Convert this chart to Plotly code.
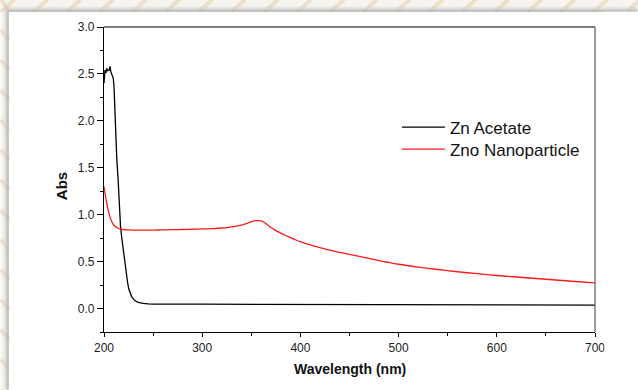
import plotly.graph_objects as go

# UV-Vis absorbance spectra
acetate_nm = [200.0, 201.0, 202.0, 202.7, 203.7, 204.4, 205.4, 206.1, 206.8, 207.8,
              208.8, 209.5, 210.2, 210.8, 211.2, 211.9, 213.0, 214.4, 215.5, 216.8,
              218.0, 219.0, 220.0, 221.2, 222.0, 223.0, 224.0, 225.2, 226.0, 227.0,
              228.0, 230.0, 232.0, 235.0, 237.0, 240.0, 245.0, 250.0, 300.0, 400.0,
              500.0, 600.0, 700.0]
acetate_abs = [2.40, 2.54, 2.51, 2.56, 2.53, 2.54, 2.54, 2.58, 2.53, 2.50,
               2.49, 2.45, 2.36, 2.15, 2.01, 1.80, 1.60, 1.37, 1.13, 0.88,
               0.76, 0.67, 0.60, 0.50, 0.43, 0.35, 0.28, 0.21, 0.18, 0.15,
               0.13, 0.10, 0.08, 0.065, 0.06, 0.055, 0.05, 0.048, 0.046, 0.043,
               0.041, 0.039, 0.037]

zno_nm = [200, 201, 202, 203, 204, 205, 206, 207, 208, 209, 210, 212, 214, 216, 218,
          220, 225, 230, 240, 250, 260, 270, 280, 290, 300, 310, 320, 325, 330, 335,
          340, 345, 348, 350, 352, 354, 356, 358, 360, 362, 364, 366, 368, 370, 373,
          376, 380, 385, 390, 395, 400, 410, 420, 430, 440, 450, 460, 470, 480, 490,
          500, 520, 540, 560, 580, 600, 620, 640, 660, 680, 700]
zno_abs = [1.30, 1.23, 1.17, 1.11, 1.06, 1.02, 0.98, 0.95, 0.925, 0.905, 0.89, 0.87,
           0.858, 0.85, 0.845, 0.841, 0.838, 0.836, 0.835, 0.836, 0.838, 0.840, 0.842,
           0.845, 0.848, 0.852, 0.858, 0.863, 0.870, 0.878, 0.890, 0.905, 0.918, 0.926,
           0.932, 0.937, 0.936, 0.937, 0.933, 0.925, 0.912, 0.896, 0.880, 0.864, 0.844,
           0.825, 0.803, 0.778, 0.756, 0.733, 0.712, 0.678, 0.648, 0.622, 0.598, 0.576,
           0.555, 0.535, 0.510, 0.491, 0.472, 0.442, 0.416, 0.392, 0.371, 0.352, 0.336,
           0.320, 0.304, 0.288, 0.273]

series_names = ["Zn Acetate", "Zno Nanoparticle"]
x_ticks = [200, 300, 400, 500, 600, 700]
y_ticks = [0.0, 0.5, 1.0, 1.5, 2.0, 2.5, 3.0]

W, H = 638, 390
ML, MR, MT, MB = 103.5, 42.5, 27.3, 57.5
PW, PH = W - ML - MR, H - MT - MB
FONT = "Liberation Sans, Arial, sans-serif"
BEIGE = "#f7f4ef"
STRIPE = "rgba(225,200,160,0.45)"


def px(x):
    return (x - ML) / PW


def py(y):
    return (H - MB - y) / PH


def rect(x0, y0, x1, y1, color, layer="below"):
    return dict(type="rect", xref="paper", yref="paper", layer=layer,
                x0=px(x0), y0=py(y0), x1=px(x1), y1=py(y1),
                line=dict(width=0), fillcolor=color)


shapes = []
# beige border strips along the top and left edges
shapes.append(rect(0, 0, W, 12, BEIGE))
shapes.append(rect(0, 0, 8, H, BEIGE))
# faint decorative stripes in the strips
for i in range(-1, 21):
    x0 = i * 33
    shapes.append(dict(type="line", xref="paper", yref="paper", layer="below",
                       x0=px(x0), y0=py(12), x1=px(x0 + 14), y1=py(0),
                       line=dict(color=STRIPE, width=4)))
for j in range(0, 14):
    y0 = j * 30
    shapes.append(dict(type="line", xref="paper", yref="paper", layer="below",
                       x0=px(0), y0=py(y0), x1=px(8), y1=py(y0 + 10),
                       line=dict(color=STRIPE, width=4)))
# soft shadow where the strips meet the white card
for d, c in [(5, "rgba(200,200,200,0.35)"), (3, "rgba(190,190,190,0.5)"),
             (1.5, "rgba(180,180,180,0.7)")]:
    shapes.append(rect(8 - d, 12 - d, W, 12, c))
    shapes.append(rect(8 - d, 12, 8, H, c))
# plain white right margin of the card
shapes.append(rect(605, 12, W + 2, H + 2, "white", layer="above"))
# top and right frame lines
shapes.append(dict(type="line", xref="paper", yref="paper", x0=0, y0=1, x1=1, y1=1,
                   line=dict(color="#555", width=1.3)))
shapes.append(dict(type="line", xref="paper", yref="paper", x0=1, y0=0, x1=1, y1=1,
                   line=dict(color="#666", width=1.3)))

fig = go.Figure()
fig.add_trace(go.Scatter(x=acetate_nm, y=acetate_abs, mode="lines", name=series_names[0],
                         legend="legend",
                         line=dict(color="#000000", width=1.3)))
fig.add_trace(go.Scatter(x=zno_nm, y=zno_abs, mode="lines", name=series_names[1],
                         legend="legend2",
                         line=dict(color="#ff1a1a", width=1.3, shape="spline",
                                   smoothing=0.8)))

legend_style = dict(xanchor="left", yanchor="top", bgcolor="rgba(0,0,0,0)",
                    font=dict(size=17, family=FONT, color="#111"),
                    itemwidth=43, borderwidth=0)

fig.update_layout(
    width=W, height=H,
    margin=dict(l=ML, r=MR, t=MT, b=MB, pad=0),
    paper_bgcolor="white",
    plot_bgcolor="rgba(0,0,0,0)",
    font=dict(family=FONT, color="#222", size=12),
    shapes=shapes,
    showlegend=True,
    legend=dict(x=px(397), y=py(110), **legend_style),
    legend2=dict(x=px(397), y=py(132), **legend_style),
    annotations=[
        dict(text="<b>Wavelength (nm)</b>", xref="paper", yref="paper",
             x=px(350), y=py(370), showarrow=False, xanchor="center", yanchor="middle",
             font=dict(size=14, family=FONT, color="#111")),
        dict(text="<b>Abs</b>", xref="paper", yref="paper", textangle=-90,
             x=px(60.5), y=py(186.5), showarrow=False, xanchor="center", yanchor="middle",
             font=dict(size=15, family=FONT, color="#111")),
    ],
)

fig.update_xaxes(
    range=[200, 700], tickvals=x_ticks, ticktext=[str(v) for v in x_ticks],
    showgrid=False, zeroline=False, showline=True, linecolor="black", linewidth=1.2,
    ticks="outside", ticklen=4, tickwidth=1, tickcolor="black",
    minor=dict(ticks="outside", ticklen=3, tickwidth=1, tickcolor="black", dtick=50,
               tick0=200, showgrid=False),
    tickfont=dict(size=12, family=FONT, color="#222"),
)
fig.update_yaxes(
    range=[-0.25, 3.0], tickvals=y_ticks, ticktext=[f"{v:.1f}" for v in y_ticks],
    showgrid=False, zeroline=False, showline=True, linecolor="black", linewidth=1.2,
    ticks="outside", ticklen=6, tickwidth=1, tickcolor="black",
    minor=dict(ticks="outside", ticklen=3, tickwidth=1, tickcolor="black", dtick=0.25,
               tick0=0, showgrid=False),
    tickfont=dict(size=12, family=FONT, color="#222"),
)

fig.write_html("out.html")
